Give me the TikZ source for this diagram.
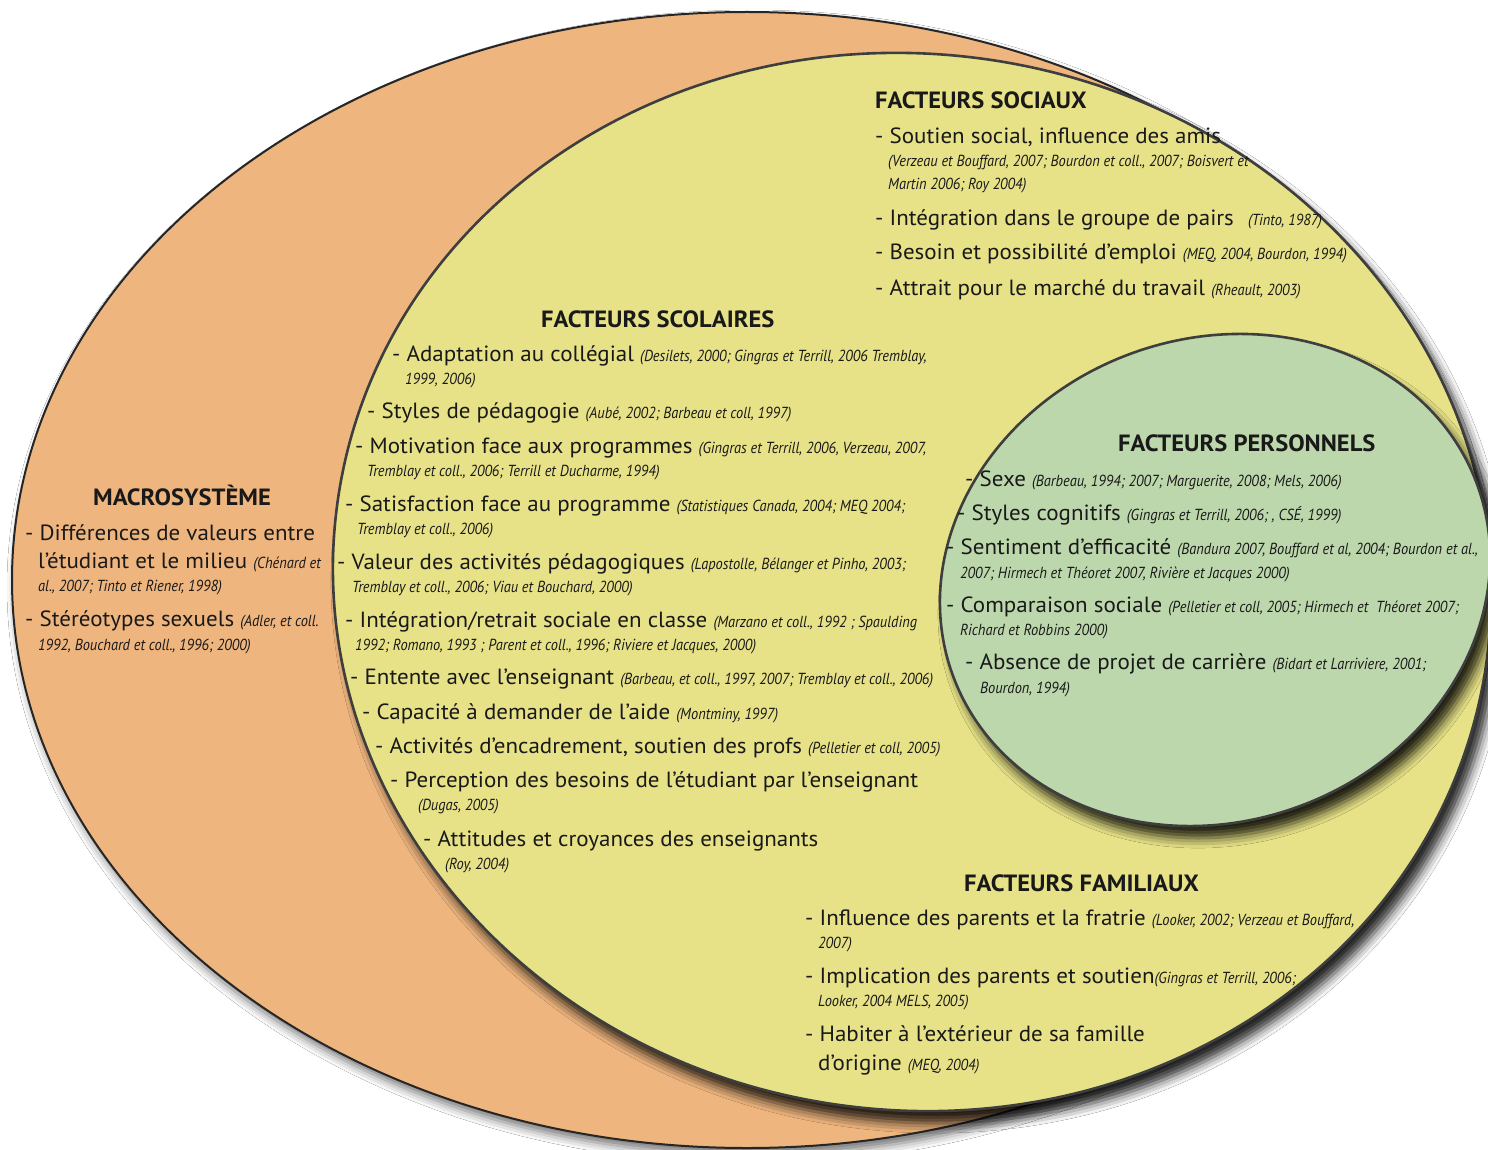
\documentclass[tikz,border=0pt]{standalone}
\usepackage{fontspec}
\setmainfont[FakeStretch=1.045]{PT Sans}
\newfontfamily\citefont[FakeStretch=0.9]{PT Sans}
\usetikzlibrary{shadows.blur}

\definecolor{macrofill}{RGB}{238,181,126}
\definecolor{ecolefill}{RGB}{231,226,135}
\definecolor{persofill}{RGB}{189,215,172}
\definecolor{rim}{RGB}{62,62,62}
\definecolor{ink}{RGB}{25,25,25}

\newcommand\cit[1]{{\citefont\itshape\fontsize{16}{18}\selectfont #1}}

\tikzset{
  zone/.style={draw=rim, line width=2.6pt},
  softshadow/.style={blur shadow={shadow xshift=8pt, shadow yshift=-12pt,
      shadow blur radius=10pt, shadow opacity=85}},
  head/.style={anchor=base west, inner sep=0pt, text=ink,
      font=\fontsize{23.5}{26}\selectfont\bfseries},
  entry/.style={anchor=base west, inner sep=0pt, text=ink,
      font=\fontsize{22}{24}\selectfont},
  refline/.style={anchor=base west, inner sep=0pt, text=ink,
      font=\citefont\itshape\fontsize{16}{18}\selectfont},
}

\begin{document}
\begin{tikzpicture}[x=1pt,y=-1pt]
\useasboundingbox (0,0) rectangle (1488,1150);
\fill[white] (0,0) rectangle (1488,1150);

% three nested spheres of influence
\path[zone, line width=2pt, draw=black!85, fill=macrofill,
      blur shadow={shadow xshift=4pt, shadow yshift=-7pt, shadow blur radius=9pt, shadow opacity=55}]
  (747,580) ellipse [x radius=735pt, y radius=568pt];
\path[zone, fill=ecolefill, softshadow, shift={(912,582)}, rotate=-8]
  (0,0) ellipse [x radius=580pt, y radius=528pt];
\path[zone, fill=persofill, softshadow, shift={(1215,580)}, rotate=19.6]
  (0,0) ellipse [x radius=279pt, y radius=241.5pt];

% ---- macrosystem
\node[head] (hmac) at (93,505) {MACROSYSTÈME};
\node[entry] (m1) at (25,540) {- Différences de valeurs entre};
\node[entry] (m1b) at (38,568) {l’étudiant et le milieu \cit{(Chénard et}};
\node[refline] (m1c) at (38,591) {al., 2007; Tinto et Riener, 1998)};
\node[entry] (m2) at (25,626) {- Stéréotypes sexuels \cit{(Adler, et coll.}};
\node[refline] (m2b) at (38,650) {1992, Bouchard et coll., 1996; 2000)};

% ---- social factors
\node[head] (hsoc) at (875,109) {FACTEURS SOCIAUX};
\node[entry] (s1) at (875,144) {- Soutien social, influence des amis};
\node[refline] (s1a) at (888,167) {(Verzeau et Bouffard, 2007; Bourdon et coll., 2007; Boisvert et};
\node[refline] (s1b) at (888,190) {Martin 2006; Roy 2004)};
\node[entry] (s2) at (875,226) {- Intégration dans le groupe de pairs\hspace{8pt} \cit{(Tinto, 1987)}};
\node[entry] (s3) at (875,260) {- Besoin et possibilité d’emploi \cit{(MEQ, 2004, Bourdon, 1994)}};
\node[entry] (s4) at (875,295) {- Attrait pour le marché du travail \cit{(Rheault, 2003)}};

% ---- school factors
\node[head] (hsco) at (541,327) {FACTEURS SCOLAIRES};
\node[entry] (c1) at (392,361) {- Adaptation au collégial \cit{(Desilets, 2000; Gingras et Terrill, 2006 Tremblay,}};
\node[refline] (c1b) at (405,384) {1999, 2006)};
\node[entry] (c2) at (367,418) {- Styles de pédagogie \cit{(Aubé, 2002; Barbeau et coll, 1997)}};
\node[entry] (c3) at (355,453) {- Motivation face aux programmes \cit{(Gingras et Terrill, 2006, Verzeau, 2007,}};
\node[refline] (c3b) at (367,476) {Tremblay et coll., 2006; Terrill et Ducharme, 1994)};
\node[entry] (c4) at (345,511) {- Satisfaction face au programme \cit{(Statistiques Canada, 2004; MEQ 2004;}};
\node[refline] (c4b) at (357,534) {Tremblay et coll., 2006)};
\node[entry] (c5) at (337,569) {- Valeur des activités pédagogiques \cit{(Lapostolle, Bélanger et Pinho, 2003;}};
\node[refline] (c5b) at (352,592) {Tremblay et coll., 2006; Viau et Bouchard, 2000)};
\node[entry] (c6) at (345,627) {- Intégration/retrait sociale en classe \cit{(Marzano et coll., 1992 ; Spaulding}};
\node[refline] (c6b) at (355,650) {1992; Romano, 1993 ; Parent et coll., 1996; Riviere et Jacques, 2000)};
\node[entry] (c7) at (350,684) {- Entente avec l’enseignant \cit{(Barbeau, et coll., 1997, 2007; Tremblay et coll., 2006)}};
\node[entry] (c8) at (362,719) {- Capacité à demander de l’aide \cit{(Montminy, 1997)}};
\node[entry] (c9) at (375,753) {- Activités d’encadrement, soutien des profs \cit{(Pelletier et coll, 2005)}};
\node[entry] (c10) at (390,787) {- Perception des besoins de l’étudiant par l’enseignant};
\node[refline] (c10b) at (418,810) {(Dugas, 2005)};
\node[entry] (c11) at (423,846) {- Attitudes et croyances des enseignants};
\node[refline] (c11b) at (445,869) {(Roy, 2004)};

% ---- personal factors
\node[head] (hper) at (1118,451) {FACTEURS PERSONNELS};
\node[entry] (p1) at (965,486) {- Sexe \cit{(Barbeau, 1994; 2007; Marguerite, 2008; Mels, 2006)}};
\node[entry] (p2) at (957,520) {- Styles cognitifs \cit{(Gingras et Terrill, 2006; , CSÉ, 1999)}};
\node[entry] (p3) at (946,554) {- Sentiment d’efficacité \cit{(Bandura 2007, Bouffard et al, 2004; Bourdon et al.,}};
\node[refline] (p3b) at (960,578) {2007; Hirmech et Théoret 2007, Rivière et Jacques 2000)};
\node[entry] (p4) at (946,612) {- Comparaison sociale \cit{(Pelletier et coll, 2005; Hirmech et\ \ Théoret 2007;}};
\node[refline] (p4b) at (960,635) {Richard et Robbins 2000)};
\node[entry] (p5) at (965,669) {- Absence de projet de carrière \cit{(Bidart et Larriviere, 2001;}};
\node[refline] (p5b) at (980,693) {Bourdon, 1994)};

% ---- family factors
\node[head] (hfam) at (964,891) {FACTEURS FAMILIAUX};
\node[entry] (f1) at (805,925) {- Influence des parents et la fratrie \cit{(Looker, 2002; Verzeau et Bouffard,}};
\node[refline] (f1b) at (818,948) {2007)};
\node[entry] (f2) at (805,983) {- Implication des parents et soutien\cit{(Gingras et Terrill, 2006;}};
\node[refline] (f2b) at (818,1006) {Looker, 2004 MELS, 2005)};
\node[entry] (f3) at (805,1041) {- Habiter à l’extérieur de sa famille};
\node[entry] (f3b) at (818,1070) {d’origine \cit{(MEQ, 2004)}};
\end{tikzpicture}
\end{document}
